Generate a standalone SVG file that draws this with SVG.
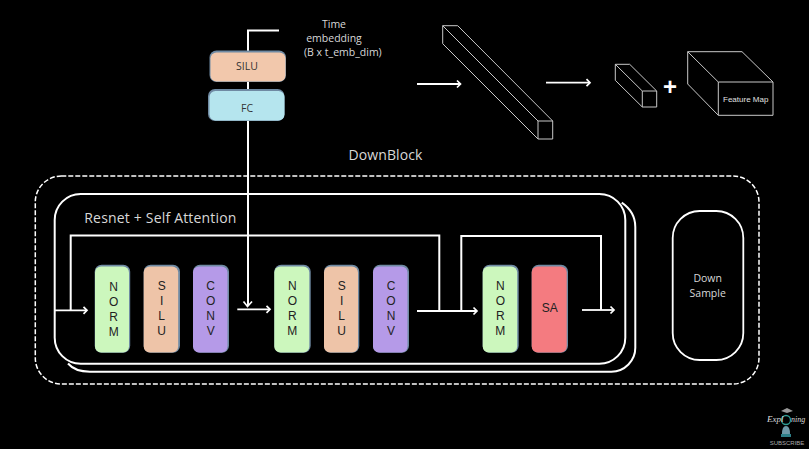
<svg xmlns="http://www.w3.org/2000/svg" width="809" height="449" viewBox="0 0 809 449">
<style>
text{font-family:"Open Sans","Noto Sans","Liberation Sans",sans-serif}
.w{fill:#d8d8d8;font-size:10.500px}
.c{text-anchor:middle}
.k{fill:#222;font-size:12px;text-anchor:middle;font-family:"Liberation Sans",sans-serif}
.s{fill:#333;font-size:10.500px;text-anchor:middle}
.sh{fill:#6f8aa3}
.line{fill:none;stroke:#fff;stroke-width:2}
.thin{fill:none;stroke:#c8c8c8;stroke-width:1}
.arr{fill:none;stroke:#fff;stroke-width:1.8;marker-end:url(#a)}
</style>
<defs>
<marker id="a" markerUnits="userSpaceOnUse" markerWidth="9" markerHeight="10" refX="7" refY="5" orient="auto"><path d="M3.500 1.500 7 5 3.500 8.500" fill="none" stroke="#fff" stroke-width="1.700"/></marker>
</defs>
<rect width="809" height="449" fill="#000"/>
<g id="connectors">
<path class="line" d="M279 30.500H248V306"/>
<path class="line" d="M70.700 310V235.500H439.300V310"/>
<path class="line" d="M461.300 310V236H601V310"/>
<path class="arr" d="M417 84H460.500"/>
<path class="arr" d="M546 82.700H590"/>
<path class="arr" d="M54.700 310.300H87"/>
<path class="arr" d="M237.300 309.300H270"/>
<path class="arr" d="M417 311H477"/>
<path class="arr" d="M582 310H614"/>
<path d="M243.500 301.500 247.500 306.500 252 301.500" fill="none" stroke="#fff" stroke-width="1.700"/>
</g>
<g id="time-label">
<text class="w c" x="334" y="28">Time</text>
<text class="w c" x="334" y="42">embedding</text>
<text class="w" x="304" y="55.500">(B x t_emb_dim)</text>
</g>
<g id="silu-top"><rect class="sh" x="209.500" y="50.500" width="76.500" height="31.500" rx="7"/><rect x="210.500" y="52.500" width="75" height="29" rx="6" fill="#f2c8ac"/><text class="s" x="247" y="70">SILU</text></g>
<g id="fc"><rect class="sh" x="208" y="89" width="76.500" height="32" rx="7"/><rect x="209.500" y="91" width="75" height="29.500" rx="6" fill="#b5e5ee"/><text class="s" x="247" y="112">FC</text></g>
<g id="long-bar">
<path class="thin" d="M442.700 25.700H457.700L552.700 121V139H538L442.700 43.700ZM442.700 25.700 538 121H552.700M538 121V139"/>
</g>
<g id="small-bar">
<path class="thin" d="M615.300 64.300H629.700L656.700 91V107H642.300L615.300 80.300ZM615.300 64.300 642.300 91H656.700M642.300 91V107"/>
</g>
<text x="670" y="95" font-size="24" font-weight="700" fill="#fff" text-anchor="middle" style="font-family:'Liberation Sans',sans-serif">+</text>
<g id="feature-map">
<path class="thin" d="M687.700 51.700H742L773 82V115.300H718.300L687.700 84ZM687.700 51.700 718.300 82H773M718.300 82V115.300"/>
<text x="745.700" y="102" font-size="8" fill="#e0e0e0" text-anchor="middle" style="font-family:'Liberation Sans',sans-serif">Feature Map</text>
</g>
<text id="downblock-title" class="w c" x="385.500" y="160" style="font-size:14px;letter-spacing:.1px">DownBlock</text>
<g id="downblock"><rect x="35.300" y="176" width="723.700" height="208" rx="26" fill="none" stroke="#fff" stroke-width="1.500" stroke-dasharray="5 2"/></g>
<g id="resnet-frame">
<path class="line" d="M68 363.500Q75 371.700 90 371.700H611A24 24 0 0 0 635.300 347V227Q635.300 212 621.700 202.700"/>
<rect x="54.700" y="194" width="570.600" height="169.700" rx="26" fill="none" stroke="#fff" stroke-width="2"/>
<text x="84.300" y="223.300" font-size="14" fill="#d8d8d8" style="letter-spacing:.18px">Resnet + Self Attention</text>
</g>
<g id="norm1"><rect class="sh" x="94.700" y="264.700" width="35.500" height="88" rx="7"/><rect x="95" y="266.500" width="34" height="86" rx="6" fill="#ccf7bd"/><text class="k" x="113.700" y="291">N</text><text class="k" x="113.700" y="306">O</text><text class="k" x="113.700" y="321">R</text><text class="k" x="113.700" y="336">M</text></g>
<g id="silu1"><rect class="sh" x="143.700" y="264.700" width="36.300" height="88" rx="7"/><rect x="143.700" y="266.500" width="34.500" height="86" rx="6" fill="#eec4a8"/><text class="k" x="161.700" y="290">S</text><text class="k" x="161.700" y="305">I</text><text class="k" x="161.700" y="320">L</text><text class="k" x="161.700" y="335">U</text></g>
<g id="conv1"><rect class="sh" x="193" y="264.700" width="36" height="88" rx="7"/><rect x="193" y="266.500" width="34.500" height="86" rx="6" fill="#b59ae8"/><text class="k" x="210.700" y="290">C</text><text class="k" x="210.700" y="305">O</text><text class="k" x="210.700" y="320">N</text><text class="k" x="210.700" y="335">V</text></g>
<g id="norm2"><rect class="sh" x="274.300" y="264.700" width="36.400" height="88" rx="7"/><rect x="274.300" y="266.500" width="35" height="86" rx="6" fill="#ccf7bd"/><text class="k" x="292.300" y="290">N</text><text class="k" x="292.300" y="305">O</text><text class="k" x="292.300" y="320">R</text><text class="k" x="292.300" y="335">M</text></g>
<g id="silu2"><rect class="sh" x="324" y="264.700" width="35.300" height="88" rx="7"/><rect x="324" y="266.500" width="34" height="86" rx="6" fill="#eec4a8"/><text class="k" x="341.700" y="290">S</text><text class="k" x="341.700" y="305">I</text><text class="k" x="341.700" y="320">L</text><text class="k" x="341.700" y="335">U</text></g>
<g id="conv2"><rect class="sh" x="373" y="264.700" width="36" height="88" rx="7"/><rect x="373" y="266.500" width="34.500" height="86" rx="6" fill="#b59ae8"/><text class="k" x="391" y="290">C</text><text class="k" x="391" y="305">O</text><text class="k" x="391" y="320">N</text><text class="k" x="391" y="335">V</text></g>
<g id="norm3"><rect class="sh" x="482.700" y="264.700" width="36" height="88" rx="7"/><rect x="482.700" y="266.500" width="34.500" height="86" rx="6" fill="#ccf7bd"/><text class="k" x="500.300" y="290">N</text><text class="k" x="500.300" y="305">O</text><text class="k" x="500.300" y="320">R</text><text class="k" x="500.300" y="335">M</text></g>
<g id="sa"><rect class="sh" x="531.700" y="264.700" width="36.300" height="88" rx="7"/><rect x="531.700" y="266.500" width="35" height="86" rx="6" fill="#f47b80"/><text class="k" x="549.700" y="312">SA</text></g>
<g id="down-sample"><rect x="672.700" y="211" width="70.600" height="149" rx="27" fill="none" stroke="#fff" stroke-width="1.800"/><text class="w c" x="707.700" y="281.500">Down</text><text class="w c" x="707.700" y="297">Sample</text></g>
<g id="logo">
<circle cx="786" cy="420" r="4.500" fill="none" stroke="#2e9c93" stroke-width="1.300"/>
<path d="M781 411 787 408 793 411 787 413Z" fill="#999"/>
<path d="M782 434Q782 426 786 426 790 426 790 434Z" fill="#6f9aa8"/><rect x="781" y="434" width="10" height="3" fill="#2e7f88"/>
<text x="767" y="422" font-size="9" font-style="italic" fill="#ddd" style="font-family:'Liberation Serif',serif">Expl</text>
<text x="791" y="422" font-size="8" font-style="italic" fill="#ddd" style="font-family:'Liberation Serif',serif">ning</text>
<text x="787" y="445" font-size="6" fill="#aaa" text-anchor="middle" style="font-family:'Liberation Sans',sans-serif">SUBSCRIBE</text>
</g>
</svg>
